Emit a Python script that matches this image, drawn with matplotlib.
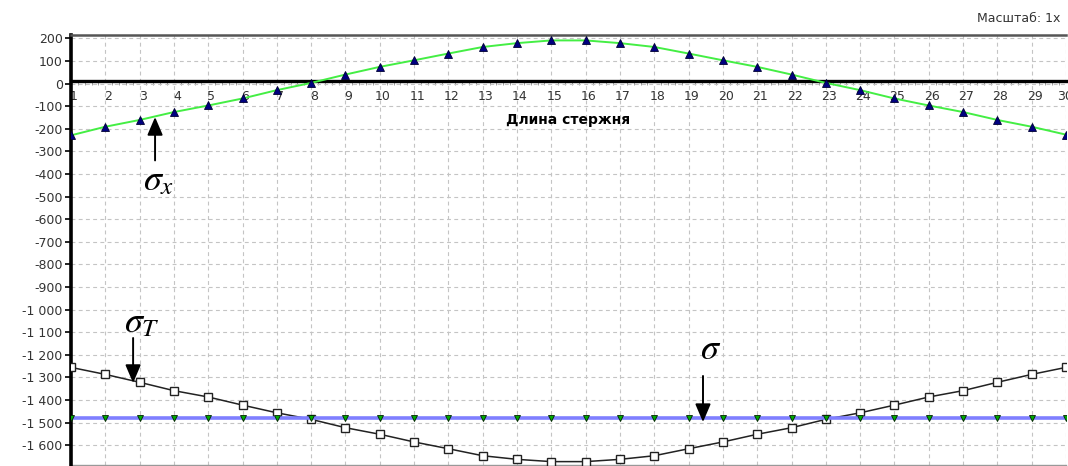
import matplotlib
matplotlib.use("Agg")
import matplotlib.pyplot as plt
from matplotlib.ticker import FuncFormatter, MultipleLocator
from matplotlib.patches import ArrowStyle
from matplotlib.transforms import ScaledTranslation

plt.rcParams["font.family"] = ["DejaVu Sans"]
plt.rcParams["mathtext.fontset"] = "stix"

# Positions along the rod
positions = list(range(1, 31))

# Stress sigma_x along the rod
sigma_x = [-229, -191, -161, -126, -97, -66, -29, 3, 40, 74,
           103, 133, 162, 179, 191, 191, 179, 162, 133, 103,
           74, 40, 3, -29, -66, -97, -126, -161, -191, -226]

# Yield stress sigma_T along the rod
sigma_t = [-1256, -1287, -1322, -1359, -1387, -1423, -1457, -1486, -1523, -1552,
           -1586, -1616, -1647, -1663, -1673, -1673, -1663, -1647, -1616, -1586,
           -1552, -1523, -1486, -1457, -1423, -1387, -1359, -1322, -1287, -1256]

# Constant stress sigma
sigma_level = -1480
sigma = [sigma_level] * len(positions)

y_ticks = list(range(-1600, 201, 100))
x_label = "Длина стержня"
scale_text = "Масштаб: 1x"

W, H = 1068, 466
fig = plt.figure(figsize=(W / 100, H / 100), dpi=100)
fig.patch.set_facecolor("white")
ax = fig.add_axes([71 / W, 1 / H, (1066 - 71) / W, (465 - 35) / H])

ax.set_xlim(1, 30)
ax.set_ylim(-1688, 215)

# grid
ax.set_xticks(positions)
ax.set_yticks(y_ticks)
ax.grid(True, which="major", color="#c4c4c4", linestyle=(0, (3.5, 3)), linewidth=0.8)
ax.set_axisbelow(True)

# spines
ax.spines["left"].set_linewidth(2.6)
ax.spines["left"].set_color("black")
ax.spines["top"].set_linewidth(1.8)
ax.spines["top"].set_color("#555555")
ax.spines["right"].set_visible(False)
ax.spines["bottom"].set_position(("data", 10))
ax.spines["bottom"].set_linewidth(2.4)
ax.spines["bottom"].set_color("black")
ax.spines["bottom"].set_zorder(2.5)
ax.plot([0, 1], [0, 0], transform=ax.transAxes, color="#999999",
        linewidth=1.0, clip_on=False)

# ticks
ax.yaxis.set_major_formatter(FuncFormatter(lambda v, p: f"{int(v):,}".replace(",", " ")))
ax.tick_params(axis="y", which="major", direction="out", length=4, width=1.2,
               labelsize=9, labelcolor="#333333", pad=2)
ax.tick_params(axis="x", which="major", direction="out", length=0,
               labelsize=9, labelcolor="#333333", pad=6)
ax.xaxis.set_minor_locator(MultipleLocator(0.2))
ax.tick_params(axis="x", which="minor", direction="out", length=3, width=0.7,
               color="#a0a0a0")
xlabels = ax.get_xticklabels()
for i, lbl in enumerate(xlabels):
    dx = 3 if i < len(xlabels) - 1 else -1
    lbl.set_transform(lbl.get_transform() + ScaledTranslation(dx / 100, 0, fig.dpi_scale_trans))

# series
ax.plot(positions, sigma_x, color="#44ee44", linewidth=1.4, zorder=3,
        marker="^", markersize=5.2, markerfacecolor="#000080",
        markeredgecolor="#000033", markeredgewidth=0.6)
ax.plot(positions, sigma_t, color="#222222", linewidth=1.1, zorder=3,
        marker="s", markersize=5.5, markerfacecolor="white",
        markeredgecolor="#222222", markeredgewidth=1.0)
ax.plot(positions, sigma, color="#7f7fff", linewidth=2.6, zorder=4,
        marker="v", markersize=5, markerfacecolor="#00aa00",
        markeredgecolor="#002200", markeredgewidth=0.6)

# axis title below the x labels
ax.text(15.5, -161, x_label, ha="center", va="center", fontsize=10,
        fontweight="bold", color="black")

fig.text(1060 / W, 1 - 18 / H, scale_text, ha="right", va="center",
         fontsize=9, color="#333333")

# labelled arrows
arrow = ArrowStyle("-|>", head_length=1.1, head_width=0.47)
akw = dict(arrowstyle=arrow, mutation_scale=10, lw=1.4, color="black",
           shrinkA=0, shrinkB=0)
ax.annotate("", xy=(3.45, -148), xytext=(3.45, -340), arrowprops=akw, zorder=6)
ax.text(3.56, -427, r"$\sigma_x$", ha="center", va="center", fontsize=26)

ax.annotate("", xy=(2.81, -1325), xytext=(2.81, -1126), arrowprops=akw, zorder=6)
ax.text(3.07, -1055, r"$\sigma_T$", ha="center", va="center", fontsize=26)

ax.annotate("", xy=(19.42, -1498), xytext=(19.42, -1294), arrowprops=akw, zorder=6)
ax.text(19.65, -1175, r"$\sigma$", ha="center", va="center", fontsize=26)

fig.savefig("out.png", dpi=100, facecolor="white")
